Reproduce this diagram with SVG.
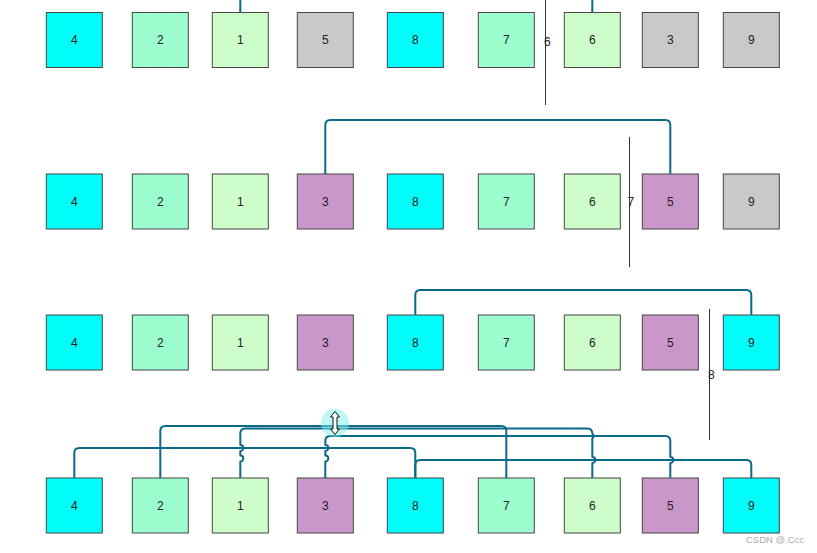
<svg xmlns="http://www.w3.org/2000/svg" width="817" height="553" viewBox="0 0 817 553">
<style>
.n rect{stroke:#454545;stroke-width:1}
.n text{font-family:"Liberation Sans",Arial,sans-serif;font-size:12px;fill:#222;text-anchor:middle;dominant-baseline:central}
.cy{fill:#00fdf9}.aq{fill:#9cfdcf}.lg{fill:#cdfdcb}.gr{fill:#c9c9c9}.pu{fill:#c997c9}
.c path{fill:none;stroke:#0b6a89;stroke-width:2;stroke-linejoin:round}
.d line{stroke:#333;stroke-width:1}
.d text{font-family:"Liberation Sans",Arial,sans-serif;font-size:12px;fill:#222;dominant-baseline:central}
</style>
<rect width="817" height="553" fill="#fff"/>

<!-- Row 1 -->
<g id="r1" class="n">
<g id="r1n4"><rect class="cy" x="46.3" y="12.5" width="56" height="55"/><text x="74.3" y="40">4</text></g>
<g id="r1n2"><rect class="aq" x="132.3" y="12.5" width="56" height="55"/><text x="160.3" y="40">2</text></g>
<g id="r1n1"><rect class="lg" x="212.3" y="12.5" width="56" height="55"/><text x="240.3" y="40">1</text></g>
<g id="r1n5"><rect class="gr" x="297.3" y="12.5" width="56" height="55"/><text x="325.3" y="40">5</text></g>
<g id="r1n8"><rect class="cy" x="387.3" y="12.5" width="56" height="55"/><text x="415.3" y="40">8</text></g>
<g id="r1n7"><rect class="aq" x="478.3" y="12.5" width="56" height="55"/><text x="506.3" y="40">7</text></g>
<g id="r1n6"><rect class="lg" x="564.3" y="12.5" width="56" height="55"/><text x="592.3" y="40">6</text></g>
<g id="r1n3"><rect class="gr" x="642.3" y="12.5" width="56" height="55"/><text x="670.3" y="40">3</text></g>
<g id="r1n9"><rect class="gr" x="723.3" y="12.5" width="56" height="55"/><text x="751.3" y="40">9</text></g>
</g>

<!-- Row 2 -->
<g id="r2" class="n">
<g id="r2n4"><rect class="cy" x="46.3" y="174" width="56" height="55"/><text x="74.3" y="202">4</text></g>
<g id="r2n2"><rect class="aq" x="132.3" y="174" width="56" height="55"/><text x="160.3" y="202">2</text></g>
<g id="r2n1"><rect class="lg" x="212.3" y="174" width="56" height="55"/><text x="240.3" y="202">1</text></g>
<g id="r2n3"><rect class="pu" x="297.3" y="174" width="56" height="55"/><text x="325.3" y="202">3</text></g>
<g id="r2n8"><rect class="cy" x="387.3" y="174" width="56" height="55"/><text x="415.3" y="202">8</text></g>
<g id="r2n7"><rect class="aq" x="478.3" y="174" width="56" height="55"/><text x="506.3" y="202">7</text></g>
<g id="r2n6"><rect class="lg" x="564.3" y="174" width="56" height="55"/><text x="592.3" y="202">6</text></g>
<g id="r2n5"><rect class="pu" x="642.3" y="174" width="56" height="55"/><text x="670.3" y="202">5</text></g>
<g id="r2n9"><rect class="gr" x="723.3" y="174" width="56" height="55"/><text x="751.3" y="202">9</text></g>
</g>

<!-- Row 3 -->
<g id="r3" class="n">
<g id="r3n4"><rect class="cy" x="46.3" y="315" width="56" height="55"/><text x="74.3" y="343">4</text></g>
<g id="r3n2"><rect class="aq" x="132.3" y="315" width="56" height="55"/><text x="160.3" y="343">2</text></g>
<g id="r3n1"><rect class="lg" x="212.3" y="315" width="56" height="55"/><text x="240.3" y="343">1</text></g>
<g id="r3n3"><rect class="pu" x="297.3" y="315" width="56" height="55"/><text x="325.3" y="343">3</text></g>
<g id="r3n8"><rect class="cy" x="387.3" y="315" width="56" height="55"/><text x="415.3" y="343">8</text></g>
<g id="r3n7"><rect class="aq" x="478.3" y="315" width="56" height="55"/><text x="506.3" y="343">7</text></g>
<g id="r3n6"><rect class="lg" x="564.3" y="315" width="56" height="55"/><text x="592.3" y="343">6</text></g>
<g id="r3n5"><rect class="pu" x="642.3" y="315" width="56" height="55"/><text x="670.3" y="343">5</text></g>
<g id="r3n9"><rect class="cy" x="723.3" y="315" width="56" height="55"/><text x="751.3" y="343">9</text></g>
</g>

<!-- Row 4 -->
<g id="r4" class="n">
<g id="r4n4"><rect class="cy" x="46.3" y="478" width="56" height="55"/><text x="74.3" y="506">4</text></g>
<g id="r4n2"><rect class="aq" x="132.3" y="478" width="56" height="55"/><text x="160.3" y="506">2</text></g>
<g id="r4n1"><rect class="lg" x="212.3" y="478" width="56" height="55"/><text x="240.3" y="506">1</text></g>
<g id="r4n3"><rect class="pu" x="297.3" y="478" width="56" height="55"/><text x="325.3" y="506">3</text></g>
<g id="r4n8"><rect class="cy" x="387.3" y="478" width="56" height="55"/><text x="415.3" y="506">8</text></g>
<g id="r4n7"><rect class="aq" x="478.3" y="478" width="56" height="55"/><text x="506.3" y="506">7</text></g>
<g id="r4n6"><rect class="lg" x="564.3" y="478" width="56" height="55"/><text x="592.3" y="506">6</text></g>
<g id="r4n5"><rect class="pu" x="642.3" y="478" width="56" height="55"/><text x="670.3" y="506">5</text></g>
<g id="r4n9"><rect class="cy" x="723.3" y="478" width="56" height="55"/><text x="751.3" y="506">9</text></g>
</g>

<!-- Connectors -->
<g id="connectors" class="c">
<path d="M240.3,0 V12.5"/>
<path d="M592.3,0 V12.5"/>
<path d="M325.3,174 V125 Q325.3,120 330.3,120 H665.3 Q670.3,120 670.3,125 V174" stroke="#0a5f7c"/>
<path d="M415.3,315 V295 Q415.3,290 420.3,290 H746.3 Q751.3,290 751.3,295 V315" stroke="#0a5f7c"/>
<path d="M74.3,478 V453 Q74.3,448 79.3,448 H410.3 Q415.3,448 415.3,453 V478"/>
<path d="M415.3,478 V465 Q415.3,460 420.3,460 H746.3 Q751.3,460 751.3,465 V478"/>
<path d="M160.3,478 V431 Q160.3,426 165.3,426 H501.3 Q506.3,426 506.3,431 V478" stroke="#09607e"/>
<path d="M240.3,478 V461.5 a3,3 0 0 0 0,-6 V451 a3,3 0 0 0 0,-6 V433.5 Q240.3,428.5 245.3,428.5 H587.3 Q592.3,428.5 592.3,433.5 a3,3 0 0 1 0,5 V457 a3,3 0 0 1 0,6 V478"/>
<path d="M325.3,478 V461.5 a3,3 0 0 0 0,-6 V451 a3,3 0 0 0 0,-6 V441 Q325.3,436 330.3,436 H665.3 Q670.3,436 670.3,441 V457 a3,3 0 0 1 0,6 V478"/>
</g>

<!-- Dividers -->
<g id="dividers" class="d">
<line x1="545.5" y1="0" x2="545.5" y2="105"/>
<text x="544" y="42">6</text>
<line x1="629.5" y1="137" x2="629.5" y2="267"/>
<text x="627.5" y="202">7</text>
<line x1="709.5" y1="309" x2="709.5" y2="440"/>
<text x="708" y="375">8</text>
</g>

<!-- Cursor -->
<g id="cursor">
<circle cx="335" cy="423" r="14" fill="#7ff0f0" opacity="0.5"/>
<path d="M335,411.5 L339.5,417 H337 V429 H339.5 L335,434.5 L330.5,429 H333 V417 H330.5 Z" fill="#fff" stroke="#111" stroke-width="1"/>
</g>

<text x="746" y="543" font-family="'Liberation Sans',Arial,sans-serif" font-size="9.5" fill="#aaa">CSDN @.Ccc</text>
</svg>
